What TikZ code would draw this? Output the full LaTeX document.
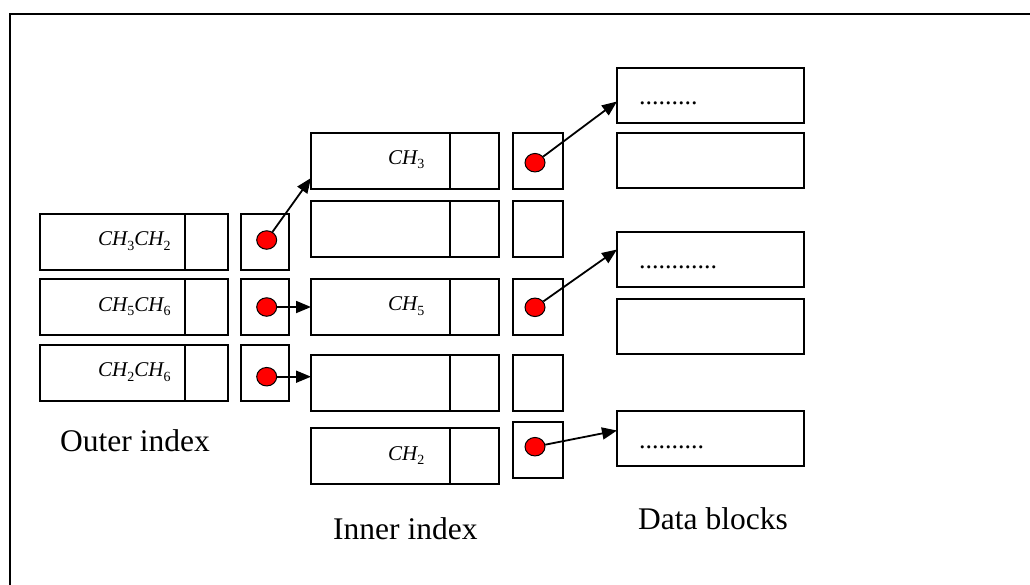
\documentclass[tikz,border=0pt]{standalone}
\usepackage{fontspec}
\setmainfont{Liberation Serif}
\usetikzlibrary{arrows.meta,shapes.geometric,calc}
\newcommand{\chsub}[1]{{\itshape CH}\raisebox{-4.5pt}{\fontsize{14}{14}\selectfont #1}}
\tikzset{
  box/.style={draw=black, line width=1.8pt, rectangle, anchor=north west, inner sep=0pt, outer sep=0pt},
  obox/.style={box, minimum width=188pt, minimum height=56pt},
  opbox/.style={box, minimum width=48pt, minimum height=56pt},
  ibox/.style={box, minimum width=188pt, minimum height=56pt},
  ipbox/.style={box, minimum width=50pt, minimum height=56pt},
  dbox/.style={box, minimum width=187pt, minimum height=55pt},
  dot/.style={ellipse, draw=black, line width=1pt, fill=red, minimum width=20pt, minimum height=18.5pt, inner sep=0pt},
  ptr/.style={line width=1.8pt, -{Triangle[length=15pt,width=12pt]}},
  divider/.style={line width=1.5pt},
  mathlbl/.style={anchor=base west, inner sep=0pt, font=\fontsize{21}{24}\selectfont},
  dotslbl/.style={anchor=base west, inner sep=0pt, font=\fontsize{26}{30}\selectfont},
  caption/.style={anchor=base west, inner sep=0pt, font=\fontsize{31.5}{36}\selectfont}
}
\begin{document}
\begin{tikzpicture}[x=1pt,y=-1pt]
\useasboundingbox (0,0) rectangle (1030,584);
% frame
\draw[line width=2pt] (9.5,1045) -- (9.5,14) -- (1045,14);
% outer index
\foreach \n/\y in {1/214,2/279,3/345}{
  \node[obox] (o\n) at (40,\y) {};
  \draw[divider] ([xshift=145pt]o\n.north west) -- ([xshift=145pt]o\n.south west);
  \node[opbox] (op\n) at (241,\y) {};
}
\node[mathlbl] (to1) at (98,245.7) {\chsub{3}\chsub{2}};
\node[mathlbl] (to2) at (98,311) {\chsub{5}\chsub{6}};
\node[mathlbl] (to3) at (98,376.5) {\chsub{2}\chsub{6}};
% inner index
\foreach \n/\y in {1/133,2/201,3/279,4/355,5/428}{
  \node[ibox] (i\n) at (311,\y) {};
  \draw[divider] ([xshift=139pt]i\n.north west) -- ([xshift=139pt]i\n.south west);
}
\foreach \n/\y in {1/133,2/201,3/279,4/355,5/422}{
  \node[ipbox] (ip\n) at (513,\y) {};
}
\node[mathlbl] (ti1) at (388,164.3) {\chsub{3}};
\node[mathlbl] (ti3) at (388,310.5) {\chsub{5}};
\node[mathlbl] (ti5) at (388,460) {\chsub{2}};
% data blocks
\foreach \n/\y in {1/68,2/133,3/232,4/299,5/411}{
  \node[dbox] (d\n) at (617,\y) {};
}
\node[dotslbl] (td1) at (639,104.3) {.........};
\node[dotslbl] (td3) at (639,268) {............};
\node[dotslbl] (td5) at (639,448) {..........};
% dots
\node[dot] (od1) at (266.7,240) {};
\node[dot] (od2) at (266.7,307) {};
\node[dot] (od3) at (266.7,376.7) {};
\node[dot] (id1) at (535,162.7) {};
\node[dot] (id3) at (535,307.3) {};
\node[dot] (id5) at (535,446.7) {};
% pointers
\draw[ptr] (od1) -- ($(i1.south west)+(0,-11)$);
\draw[ptr] (od2) -- (i3.west |- od2);
\draw[ptr] (od3) -- (i4.west |- od3);
\draw[ptr] (id1) -- ($(d1.west)+(0,6)$);
\draw[ptr] (id3) -- ($(d3.west)+(0,-10)$);
\draw[ptr] (id5) -- ($(d5.west)+(0,-8)$);
% captions
\node[caption] (co) at (60,451.7) {Outer index};
\node[caption] (ci) at (333,539.3) {Inner index};
\node[caption] (cd) at (638,529.3) {Data blocks};
\end{tikzpicture}
\end{document}
